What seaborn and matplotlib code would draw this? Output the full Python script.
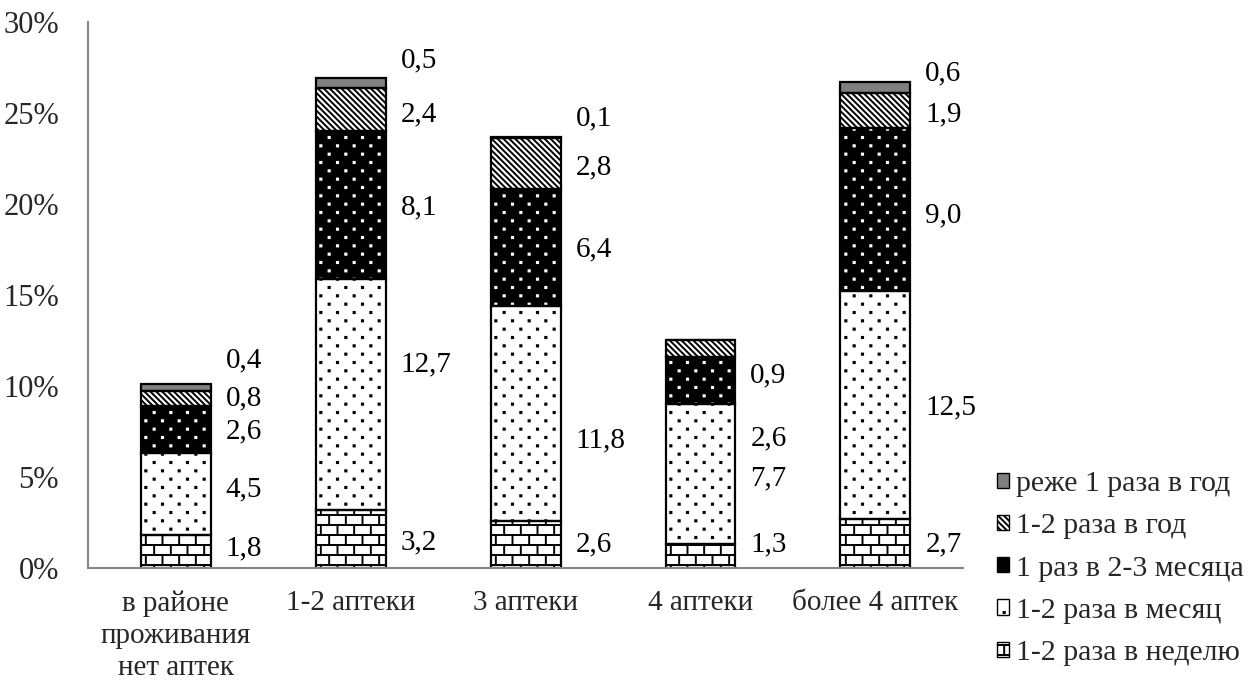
import warnings
import numpy as np
import pandas as pd
import matplotlib
matplotlib.use("Agg")
import matplotlib.pyplot as plt
import matplotlib.hatch as mhatch
from matplotlib.path import Path
from matplotlib.patches import Patch
import seaborn as sns

warnings.filterwarnings("ignore")

# ---------------- data ----------------
categories = ["в районе\nпроживания\nнет аптек", "1-2 аптеки", "3 аптеки",
              "4 аптеки", "более 4 аптек"]
series_names = ["1-2 раза в неделю", "1-2 раза в месяц", "1 раз в 2-3 месяца",
                "1-2 раза в год", "реже 1 раза в год"]
weekly = [1.8, 3.2, 2.6, 1.3, 2.7]
monthly = [4.5, 12.7, 11.8, 7.7, 12.5]
bimonthly = [2.6, 8.1, 6.4, 2.6, 9.0]
yearly = [0.8, 2.4, 2.8, 0.9, 1.9]
rarely = [0.4, 0.5, 0.1, 0.0, 0.6]
y_ticks = [0, 5, 10, 15, 20, 25, 30]

# label nudges (layout only, in % units relative to segment centre)
label_nudge = [
    [0.2, 0.25, -0.1, 0.0, 1.5],
    [-0.2, 1.65, -0.15, -0.3, 1.25],
    [0.0, -1.5, -0.1, -0.2, 1.05],
    [0.65, -0.25, -3.2, -1.45, 0.0],
    [-0.05, -0.15, -0.3, -0.25, 0.8],
]


# ---------------- custom hatches ----------------
class BrickHatch(mhatch.HatchPatternBase):
    def __init__(self, hatch, density):
        self.on = "b" in hatch
        self.rows, self.cols = 10, 6
        n = self.rows + self.rows * self.cols + self.cols
        self.num_vertices = 2 * n if self.on else 0

    def set_vertices_and_codes(self, vertices, codes):
        n, m = self.rows, self.cols
        segs = []
        for i in range(n):
            y = (i + 0.5) / n
            segs.append(((0.0, y), (1.0, y)))
        for i in range(n):
            y0 = (i + 0.5) / n
            y1 = (i + 1.5) / n
            for j in range(m):
                x = (j + 0.25 + 0.5 * (i % 2)) / m
                if y1 <= 1.0:
                    segs.append(((x, y0), (x, y1)))
                else:
                    segs.append(((x, y0), (x, 1.0)))
                    segs.append(((x, 0.0), (x, y1 - 1.0)))
        for k, (a, b) in enumerate(segs):
            vertices[2 * k] = a
            vertices[2 * k + 1] = b
            codes[2 * k] = Path.MOVETO
            codes[2 * k + 1] = Path.LINETO


class DotHatch(mhatch.HatchPatternBase):
    def __init__(self, hatch, density):
        self.on = "d" in hatch
        self.rows, self.cols = 12, 6
        self.num_vertices = 5 * self.rows * self.cols if self.on else 0

    def set_vertices_and_codes(self, vertices, codes):
        s = 0.006
        k = 0
        for r in range(self.rows):
            y = (r + 0.5) / self.rows
            for j in range(self.cols):
                x = (j + 0.25 + 0.5 * (r % 2)) / self.cols
                vertices[k:k + 5] = [(x - s, y - s), (x + s, y - s), (x + s, y + s),
                                     (x - s, y + s), (x - s, y - s)]
                codes[k:k + 5] = [Path.MOVETO, Path.LINETO, Path.LINETO,
                                  Path.LINETO, Path.CLOSEPOLY]
                k += 5


class DiagHatch(mhatch.HatchPatternBase):
    """Dense lines running from upper-left to lower-right."""
    def __init__(self, hatch, density):
        self.on = "g" in hatch
        self.n = 17
        self.num_vertices = 2 * (2 * self.n + 1) if self.on else 0

    def set_vertices_and_codes(self, vertices, codes):
        k = 0
        for i in range(2 * self.n + 1):
            c = i / self.n
            vertices[k] = (c - 1.0, 1.0)
            vertices[k + 1] = (c, 0.0)
            codes[k] = Path.MOVETO
            codes[k + 1] = Path.LINETO
            k += 2


mhatch._hatch_types.extend([BrickHatch, DotHatch, DiagHatch])

# ---------------- style ----------------
sns.set_style("white")
plt.rcParams["font.family"] = ["Liberation Serif", "DejaVu Serif"]
plt.rcParams["hatch.linewidth"] = 1.4
gray = "#868686"

fig, ax = plt.subplots(figsize=(12.49, 6.82), dpi=100)
fig.subplots_adjust(left=0.0705, right=0.771, bottom=0.1672, top=0.9677)

series = [weekly, monthly, bimonthly, yearly, rarely]
styles = [dict(color="white", edgecolor="black", hatch="b"),
          dict(color="white", edgecolor="black", hatch="d"),
          dict(color="black", edgecolor="white", hatch="d"),
          dict(color="white", edgecolor="black", hatch="g"),
          dict(color="#808080", edgecolor="#808080", hatch=None)]

bottom = np.zeros(len(categories))
for vals, st in zip(series, styles):
    sns.barplot(x=categories, y=vals, order=categories, bottom=bottom.copy(),
                width=0.4, errorbar=None, color=st["color"], saturation=1,
                edgecolor=st["edgecolor"], hatch=st["hatch"], linewidth=0, ax=ax)
    bottom += np.array(vals)

bottom = np.zeros(len(categories))
for vals in series:
    sns.barplot(x=categories, y=vals, order=categories, bottom=bottom.copy(),
                width=0.4, errorbar=None, fill=False, color="black",
                linewidth=1.6, ax=ax)
    bottom += np.array(vals)

# value labels
bottom = np.zeros(len(categories))
for si, vals in enumerate(series):
    for ci, v in enumerate(vals):
        if v > 0:
            yc = bottom[ci] + v / 2 + label_nudge[ci][si]
            ax.text(ci + 0.285, yc, f"{v:.1f}".replace(".", ","), ha="left",
                    va="center", fontsize=21, color="black")
    bottom += np.array(vals)

# axes
ax.set_xlim(-0.5, 4.5)
ax.set_ylim(0, 30)
ax.set_yticks(y_ticks)
ax.set_yticklabels([f"{t}%" for t in y_ticks], fontsize=22)
ax.set_xticks(range(len(categories)))
ax.set_xticklabels(categories, fontsize=21, linespacing=1.3)
ax.set_xticks(np.arange(-0.5, len(categories), 1.0), minor=True)
ax.tick_params(axis="x", which="major", length=0, pad=16)
ax.tick_params(axis="x", which="minor", length=7, width=1.4, color=gray)
ax.tick_params(axis="y", length=7, width=1.4, color=gray, pad=14)
ax.set_xlabel("")
ax.set_ylabel("")
for sp in ["top", "right"]:
    ax.spines[sp].set_visible(False)
for sp in ["left", "bottom"]:
    ax.spines[sp].set_color(gray)
    ax.spines[sp].set_linewidth(1.5)

# legend
handles = []
for name, st in zip(series_names, styles):
    handles.append(Patch(facecolor=st["color"], edgecolor="black",
                         hatch=None if st["color"] == "black" else st["hatch"],
                         linewidth=1.0, label=name))
handles = handles[::-1]
fig.legend(handles=handles, loc="upper left", bbox_to_anchor=(0.798, 0.309),
           frameon=False, fontsize=21.5, handlelength=0.4, handleheight=0.4,
           handletextpad=0.25, labelspacing=0.54, borderpad=0, borderaxespad=0)

fig.savefig("out.png", dpi=100)
